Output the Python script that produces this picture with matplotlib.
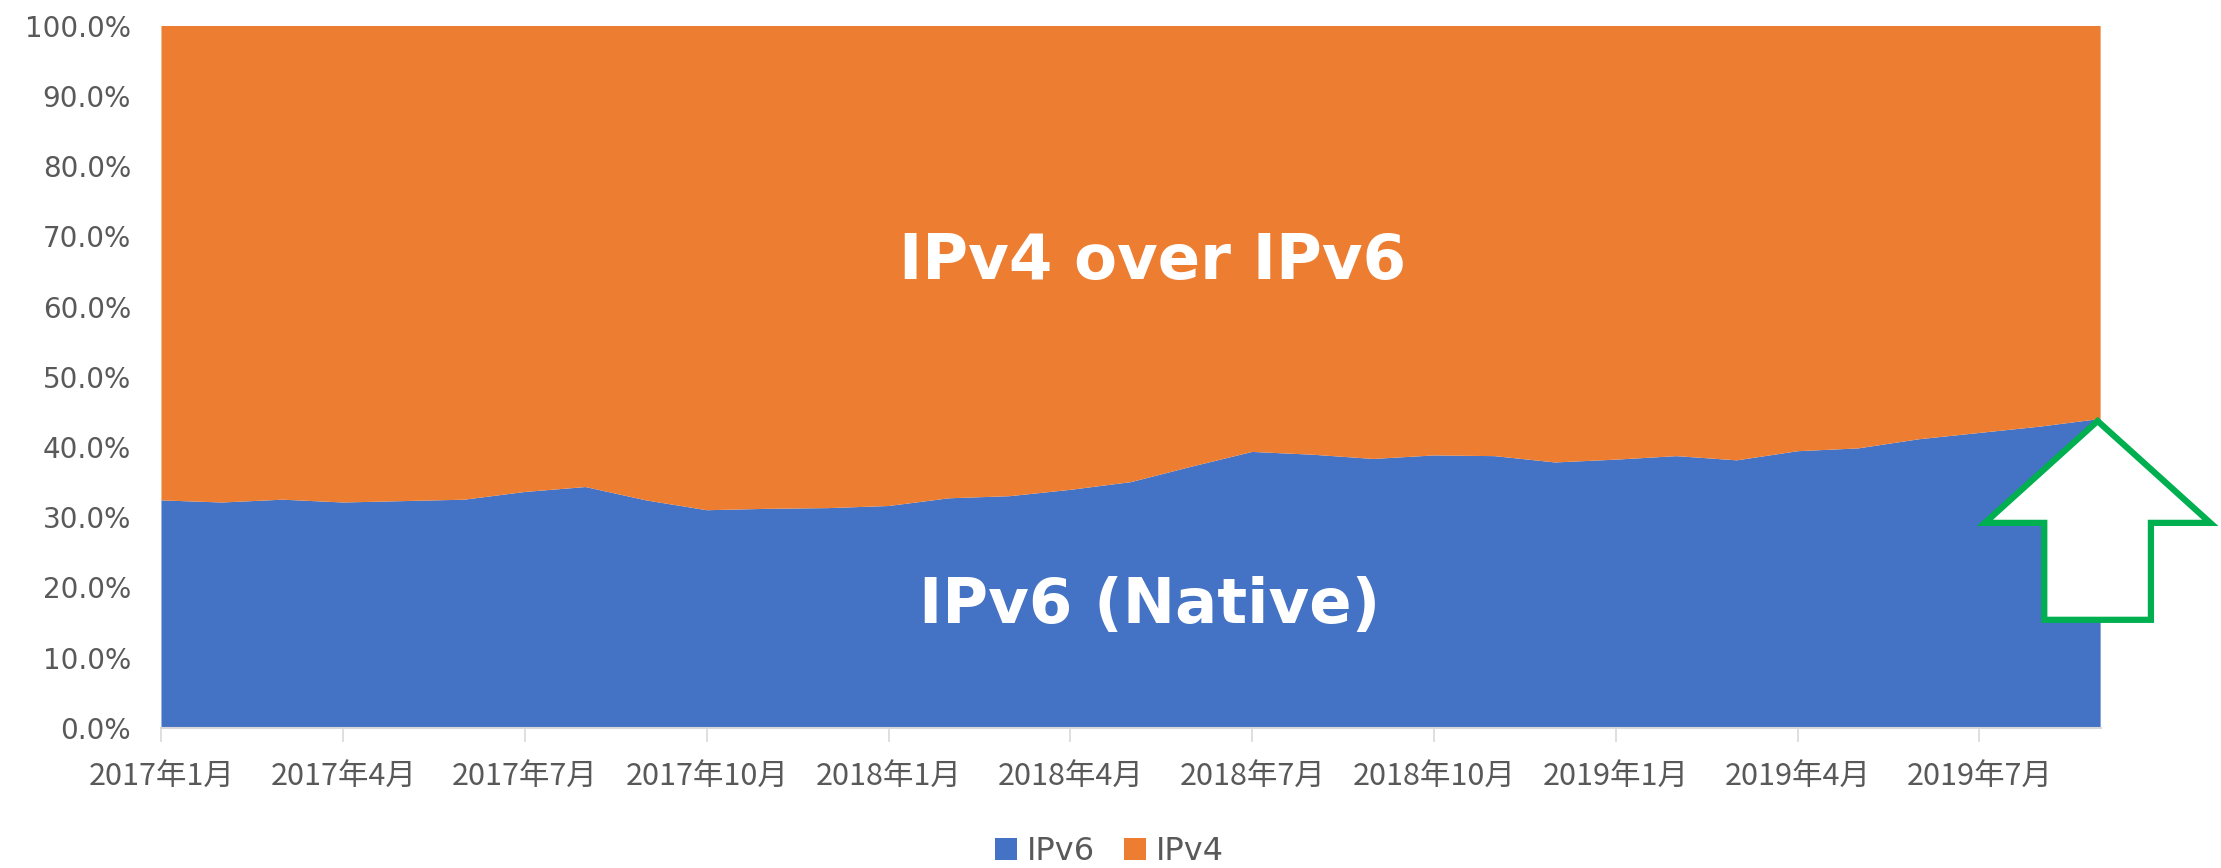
import numpy as np
import matplotlib
matplotlib.use("Agg")
import matplotlib.pyplot as plt
from matplotlib.patches import Polygon, Patch

# monthly share of IPv6 (native) traffic, 2017/1 .. 2019/9 (%)
months = ['2017年1月', '2017年2月', '2017年3月', '2017年4月', '2017年5月', '2017年6月',
          '2017年7月', '2017年8月', '2017年9月', '2017年10月', '2017年11月', '2017年12月',
          '2018年1月', '2018年2月', '2018年3月', '2018年4月', '2018年5月', '2018年6月',
          '2018年7月', '2018年8月', '2018年9月', '2018年10月', '2018年11月', '2018年12月',
          '2019年1月', '2019年2月', '2019年3月', '2019年4月', '2019年5月', '2019年6月',
          '2019年7月', '2019年8月', '2019年9月']
ipv6 = [32.4, 32.1, 32.5, 32.1, 32.3, 32.5, 33.6, 34.3, 32.4, 31.0, 31.2, 31.3,
        31.6, 32.7, 33.0, 33.9, 35.0, 37.2, 39.3, 38.9, 38.3, 38.8, 38.7, 37.8,
        38.2, 38.7, 38.1, 39.4, 39.8, 41.1, 42.0, 42.9, 44.0]
ipv4 = [100 - v for v in ipv6]  # 100% stacked
series_names = ['IPv6', 'IPv4']
colors = ['#4472C4', '#ED7D31']

x = np.arange(len(months))

fig = plt.figure(figsize=(22.21, 8.68), dpi=100)
ax = fig.add_axes([0.0727, 0.1613, 0.8731, 0.8093])

ax.stackplot(x, ipv6, ipv4, colors=colors, linewidth=0)

ax.set_xlim(0, len(months) - 1)
ax.set_ylim(0, 100)

yt = np.arange(0, 101, 10)
ax.set_yticks(yt)
ax.set_yticklabels([f'{v:.1f}%' for v in yt], family='DejaVu Sans', fontsize=20, color='#595959')
ax.tick_params(axis='y', length=0, pad=22)

ax.set_xticks(x[::3])
ax.set_xticklabels(months[::3], family=['Noto Sans CJK JP', 'DejaVu Sans'], fontsize=22, color='#595959')
ax.tick_params(axis='x', length=10, width=1.2, color='#d9d9d9', pad=14)

for s in ['top', 'right', 'left']:
    ax.spines[s].set_visible(False)
ax.spines['bottom'].set_color('#d9d9d9')
ax.spines['bottom'].set_linewidth(1.5)

# labels inside the areas
ax.text(16.35, 66.3, 'IPv4 over IPv6', color='white', fontsize=45, fontweight='bold',
        ha='center', va='center', family='DejaVu Sans')
ax.text(16.3, 17.4, 'IPv6 (Native)', color='white', fontsize=45, fontweight='bold',
        ha='center', va='center', family='DejaVu Sans')

# green outlined up-arrow pointing at latest value
tx, ty = x[-1] - 0.05, ipv6[-1] - 0.3
wing_w, shaft_w, wing_d, bot_d = 1.86, 0.88, 14.5, 28.3
arrow = Polygon([(tx, ty), (tx + wing_w, ty - wing_d), (tx + shaft_w, ty - wing_d),
                 (tx + shaft_w, ty - bot_d), (tx - shaft_w, ty - bot_d),
                 (tx - shaft_w, ty - wing_d), (tx - wing_w, ty - wing_d)],
                closed=True, facecolor='white', edgecolor='#00B050', linewidth=4.5,
                joinstyle='miter', clip_on=False, zorder=5)
ax.add_patch(arrow)

handles = [Patch(facecolor=c, edgecolor='none') for c in colors]
fig.legend(handles, series_names, loc='center', bbox_to_anchor=(0.4995, 0.019), ncol=2,
           frameon=False, fontsize=23, handlelength=0.7, handleheight=0.7,
           handletextpad=0.3, columnspacing=0.9, labelcolor='#595959')

fig.savefig('out.png', dpi=100)
